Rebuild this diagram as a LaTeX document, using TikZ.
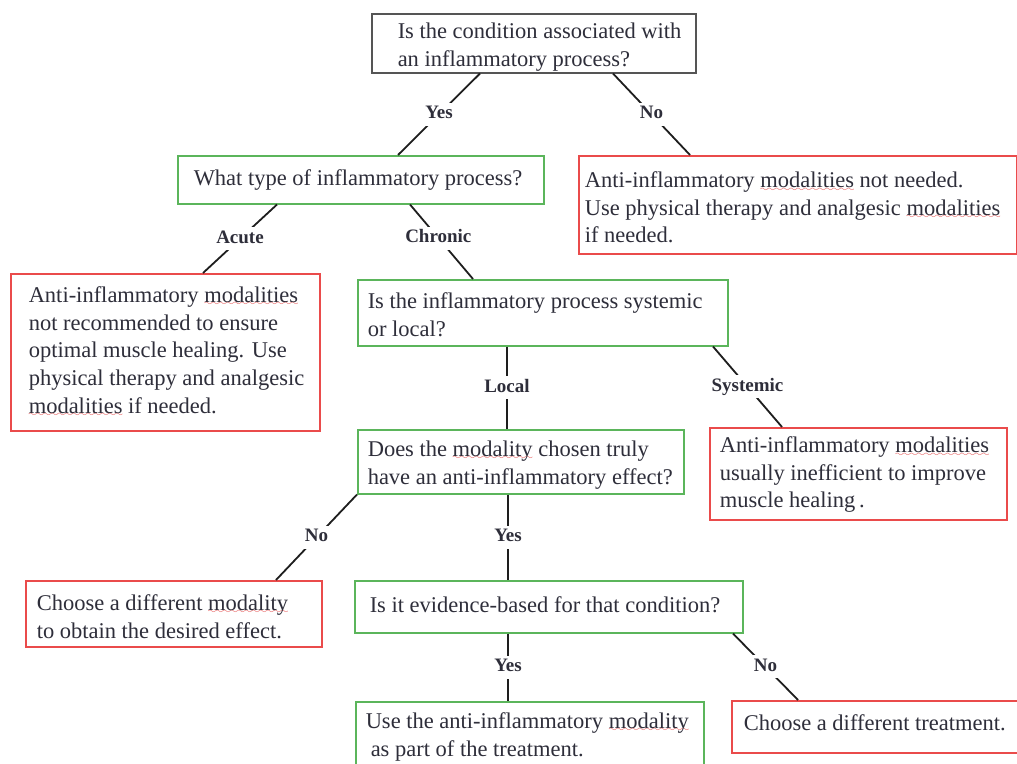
\documentclass[tikz,border=0pt]{standalone}
\usepackage{fontspec}
\setmainfont{Liberation Serif}

% red wavy underline under flagged words
\font\sixly=lasy6 scaled 1400
\newcommand\wavy[1]{\setbox0\hbox{#1}\rlap{\textcolor{spellRed}{\lower3.5pt\hbox to\wd0{\xleaders\hbox{\sixly\char58}\hfil}}}\box0\relax}
% box content: [drop], width, left padding, lines
\newcommand\boxtext[4][0]{\makebox[#2pt][l]{\hspace*{#3pt}\raisebox{-#1pt}[\height][\depth]{\begin{tabular}{@{}l@{}}#4\end{tabular}}}}

\begin{document}
\begin{tikzpicture}[x=1pt,y=-1pt]
    \definecolor{textColour}{HTML}{2E2E3A}
    \definecolor{boxGreen}{HTML}{5BB55B}
    \definecolor{boxRed}{HTML}{EA4B4B}
    \definecolor{boxGrey}{HTML}{555555}
    \definecolor{spellRed}{HTML}{E23A3A}
    \definecolor{lineColour}{HTML}{1E1E1E}

    \tikzset{
        box/.style={draw, line width=1.5pt, inner sep=0pt, anchor=north west, fill=white,
            text=textColour, font=\fontsize{22.5}{27.7}\selectfont},
        gbox/.style={box, draw=boxGreen},
        rbox/.style={box, draw=boxRed},
        kbox/.style={box, draw=boxGrey},
        link/.style={line width=1.8pt, draw=lineColour},
        lbl/.style={fill=white, inner sep=3pt, text height=13pt, text depth=4pt, text=textColour,
            font=\fontsize{19}{22}\selectfont\bfseries}
    }

    \useasboundingbox (0,0) rectangle (1017,763);

    % Draw boxes
    \node[kbox, minimum height=59] (cond) at (371,13)
        {\boxtext[4]{324}{26}{Is the condition associated with\\an inflammatory process?}};
    \node[gbox, minimum height=48] (type) at (177,155)
        {\boxtext{366}{16}{What type of inflammatory process?}};
    \node[rbox, minimum height=98] (notneeded) at (578,155)
        {\boxtext[5]{438}{6}{Anti-inflammatory \wavy{modalities} not needed.\\Use physical therapy and analgesic \wavy{modalities}\\if needed.}};
    \node[rbox, minimum height=157] (acute) at (10,273)
        {\boxtext{309}{18}{Anti-inflammatory \wavy{modalities}\\not recommended to ensure\\optimal muscle healing. Use\\physical therapy and analgesic\\\wavy{modalities} if needed.}};
    \node[gbox, minimum height=66] (extent) at (357,279)
        {\boxtext[4]{370}{10}{Is the inflammatory process systemic\\or local?}};
    \node[gbox, minimum height=64] (effect) at (357,429)
        {\boxtext[3]{326}{10}{Does the \wavy{modality} chosen truly\\have an anti-inflammatory effect?}};
    \node[rbox, minimum height=92] (systemic) at (709,427)
        {\boxtext[1]{297}{10}{Anti-inflammatory \wavy{modalities}\\usually inefficient to improve\\muscle healing\,.}};
    \node[rbox, minimum height=66] (othermod) at (25,580)
        {\boxtext[5]{296}{11}{Choose a different \wavy{modality}\\to obtain the desired effect.}};
    \node[gbox, minimum height=52] (evidence) at (354,580)
        {\boxtext{388}{15}{Is it evidence-based for that condition?}};
    \node[gbox, minimum height=70] (use) at (355,701)
        {\boxtext{348}{10}{Use the anti-inflammatory \wavy{modality}\\\hspace*{5pt}as part of the treatment.}};
    \node[rbox, minimum height=52] (othertreat) at (731,700)
        {\boxtext[-2]{286}{12}{Choose a different treatment.}};

    % Draw connectors with labels
    \draw[link] ([xshift=109]cond.south west) -- node[lbl]{Yes} ([xshift=221]type.north west);
    \draw[link] ([xshift=242]cond.south west) -- node[lbl]{No} ([xshift=112]notneeded.north west);
    \draw[link] ([xshift=100]type.south west) -- node[lbl]{Acute} ([xshift=193]acute.north west);
    \draw[link] ([xshift=233]type.south west) -- node[lbl, pos=0.45]{Chronic} ([xshift=116]extent.north west);
    \draw[link] ([xshift=150]extent.south west) -- node[lbl]{Local} ([xshift=150]effect.north west);
    \draw[link] ([xshift=356]extent.south west) -- node[lbl]{Systemic} ([xshift=73]systemic.north west);
    \draw[link] (effect.south west) -- node[lbl]{No} ([xshift=251]othermod.north west);
    \draw[link] ([xshift=151]effect.south west) -- node[lbl]{Yes} ([xshift=154]evidence.north west);
    \draw[link] ([xshift=154]evidence.south west) -- node[lbl]{Yes} ([xshift=153]use.north west);
    \draw[link] ([xshift=379]evidence.south west) -- node[lbl]{No} ([xshift=67]othertreat.north west);

\end{tikzpicture}
\end{document}
